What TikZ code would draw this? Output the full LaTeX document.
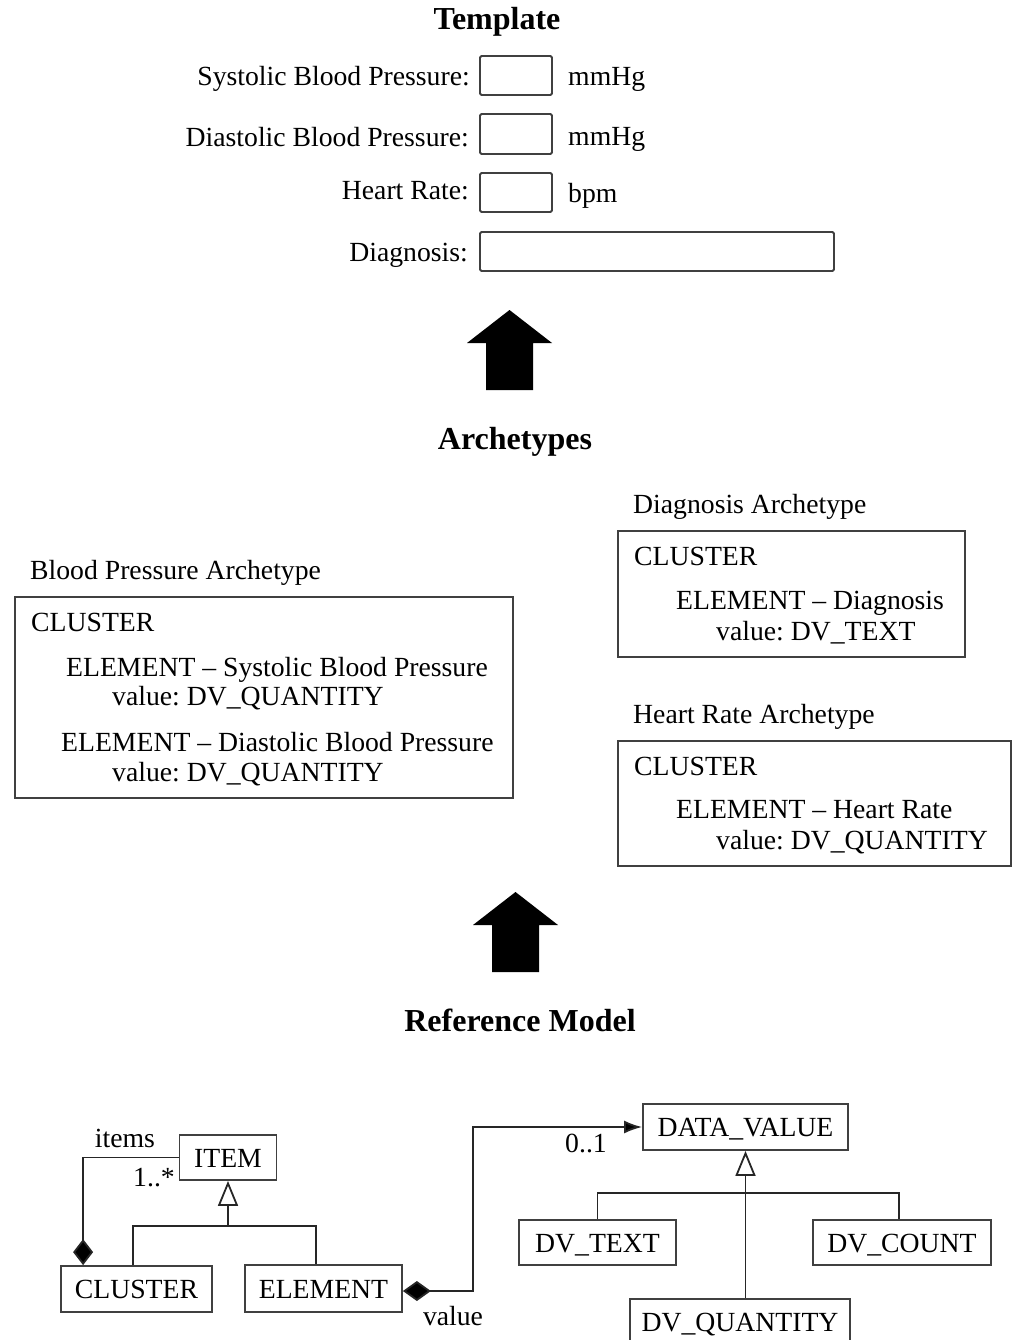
\documentclass[tikz,border=0pt]{standalone}
\usepackage{fontspec}
\setmainfont{Liberation Serif}
\usepackage{tikz}
\usetikzlibrary{calc,positioning}
\usetikzlibrary{arrows.meta}
\frenchspacing

\begin{document}
\begin{tikzpicture}[x=1pt,y=-1pt,font=\fontsize{27.7}{33}\selectfont]
        \clip (0,0) rectangle (1016,1340);

          \tikzstyle{txt} = [inner sep = 0pt, text height = 22pt, text depth = 3pt]
          \tikzstyle{ttl} = [txt, font=\fontsize{32}{38}\selectfont\bfseries]
          \tikzstyle{fbox} = [draw=black!75, line width = 1.8pt, rounded corners = 1.5pt, inner sep = 0pt]
          \tikzstyle{abox} = [draw=black!75, line width = 1.8pt, inner sep = 0pt]
          \tikzstyle{cls} = [draw=black!75, line width = 1.8pt, inner sep = 0pt, txt]
          \tikzstyle{lnk} = [line width = 1.8pt, draw=black!85]

          % Template
          \node[ttl] (tpl) at (497,20) {Template};

          \node[fbox, minimum width = 72pt, minimum height = 39pt] (f1) at (516,75.5) {};
          \node[fbox, minimum width = 72pt, minimum height = 40pt] (f2) at (516,134) {};
          \node[fbox, minimum width = 72pt, minimum height = 39pt] (f3) at (516,192.5) {};
          \node[fbox, minimum width = 354pt, minimum height = 39pt] (f4) at (657,251.5) {};

          \node[txt, anchor=east] (l1) at (470,76) {Systolic Blood Pressure:};
          \node[txt, anchor=east] (l2) at (469,137) {Diastolic Blood Pressure:};
          \node[txt, anchor=east] (l3) at (469,190) {Heart Rate:};
          \node[txt, anchor=east] (l4) at (468,252) {Diagnosis:};

          \node[txt, anchor=west] (u1) at (568,76) {mmHg};
          \node[txt, anchor=west] (u2) at (568,136) {mmHg};
          \node[txt, anchor=west] (u3) at (568,193) {bpm};

          \fill[shift={(509.5,310)}] (0,0) -- (42.5,33) -- (23.5,33) -- (23.5,80)
            -- (-23.5,80) -- (-23.5,33) -- (-42.5,33) -- cycle;

          % Archetypes
          \node[ttl] (arc) at (515,440) {Archetypes};

          \node[txt, anchor=west] (dgt) at (633,504) {Diagnosis Archetype};
          \node[abox, minimum width = 347pt, minimum height = 126pt] (dg) at (791.5,594) {};
          \node[txt, anchor=west] (dg1) at (634,556) {CLUSTER};
          \node[txt, anchor=west] (dg2) at (676,600) {ELEMENT -- Diagnosis};
          \node[txt, anchor=west] (dg3) at (716,631) {value: DV\_TEXT};

          \node[txt, anchor=west] (bpt) at (30,570) {Blood Pressure Archetype};
          \node[abox, minimum width = 498pt, minimum height = 201pt] (bp) at (264,697.5) {};
          \node[txt, anchor=west] (bp1) at (31,622) {CLUSTER};
          \node[txt, anchor=west] (bp2) at (66,667) {ELEMENT -- Systolic Blood Pressure};
          \node[txt, anchor=west] (bp3) at (112,696) {value: DV\_QUANTITY};
          \node[txt, anchor=west] (bp4) at (61,742) {ELEMENT -- Diastolic Blood Pressure};
          \node[txt, anchor=west] (bp5) at (112,772) {value: DV\_QUANTITY};

          \node[txt, anchor=west] (hrt) at (633,714) {Heart Rate Archetype};
          \node[abox, minimum width = 393pt, minimum height = 125pt] (hr) at (814.5,803.5) {};
          \node[txt, anchor=west] (hr1) at (634,766) {CLUSTER};
          \node[txt, anchor=west] (hr2) at (676,809) {ELEMENT -- Heart Rate};
          \node[txt, anchor=west] (hr3) at (716,840) {value: DV\_QUANTITY};

          \fill[shift={(515.5,892)}] (0,0) -- (42.5,33) -- (23.5,33) -- (23.5,80)
            -- (-23.5,80) -- (-23.5,33) -- (-42.5,33) -- cycle;

          % Reference Model
          \node[ttl] (rm) at (520,1022) {Reference Model};

          \node[cls, minimum width = 97pt, minimum height = 45pt] (item) at (228,1157.5) {ITEM};
          \node[cls, minimum width = 151pt, minimum height = 46pt] (cluster) at (136.5,1289) {CLUSTER};
          \node[cls, minimum width = 157pt, minimum height = 47pt] (element) at (323.5,1288.5) {ELEMENT};
          \node[cls, minimum width = 205pt, minimum height = 46pt] (datavalue) at (745.5,1127) {DATA\_VALUE};
          \node[cls, minimum width = 157pt, minimum height = 45pt] (dvtext) at (597.5,1242.5) {DV\_TEXT};
          \node[cls, minimum width = 178pt, minimum height = 45pt] (dvcount) at (902,1242.5) {DV\_COUNT};
          \node[cls, minimum width = 220pt, minimum height = 46pt, anchor=north] (dvquantity) at (740,1298) {DV\_QUANTITY};

          \node[txt] (items) at (125,1138) {items};
          \node[txt] (mult1) at (154,1177) {1..*};
          \node[txt] (value) at (453,1316) {value};
          \node[txt] (mult2) at (586,1143) {0..1};

          \coordinate (itemjoin) at (228,1226);
          \coordinate (dvjoin) at (745.5,1193);
          \coordinate (vbend) at (473,1291);

          \draw[lnk] (cluster.north -| 133,0) |- (itemjoin) -| (element.north -| 316,0);
          \draw[lnk, -{Triangle[open, length=25pt, width=20pt]}] (itemjoin) -- (item.south);

          \draw[lnk, {Diamond[length=26pt, width=20pt, fill=black]}-] ($(cluster.north west)+(23,0)$) |- (item.west);

          \draw[lnk, {Diamond[length=28pt, width=20pt, fill=black]}-{Latex[length=18pt, width=13pt, fill=black]}]
            (element.east |- vbend) -- (vbend) |- (datavalue.west);

          \draw[lnk] (dvtext.north) |- (dvjoin) -| (dvcount.north -| 899,0);
          \draw[lnk, -{Triangle[open, length=25pt, width=20pt]}] (dvquantity.north -| dvjoin) -- (datavalue.south);

      \end{tikzpicture}
\end{document}
